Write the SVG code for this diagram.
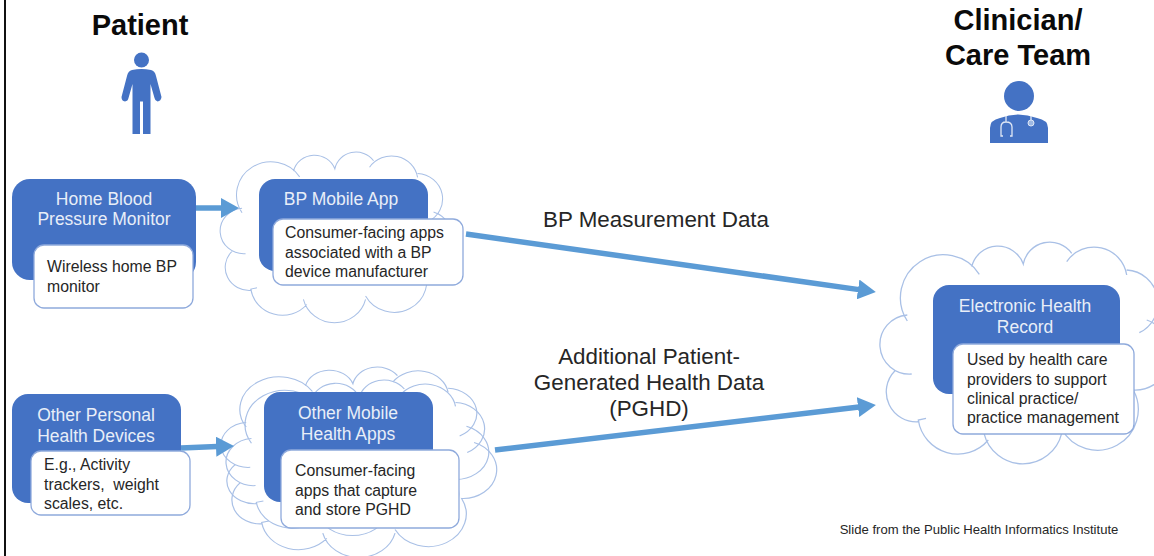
<svg xmlns="http://www.w3.org/2000/svg" xmlns:xlink="http://www.w3.org/1999/xlink" width="1154" height="556" viewBox="0 0 1154 556">
<style>
text{font-family:"Liberation Sans",Arial,sans-serif}
.h{font-size:29px;font-weight:700;fill:#0a0a0a;text-anchor:middle}
.t{font-size:17.500px;fill:#e8eef8;text-anchor:middle}
.b{font-size:15.800px;fill:#262626}
.l{font-size:22.400px;fill:#262626;text-anchor:middle}
.blue{fill:#4472C4}
.card{fill:#fff;stroke:#8FAADC;stroke-width:1.3}
.cl{fill:none;stroke:#A9C0E6;stroke-width:1.3;vector-effect:non-scaling-stroke}
.a{fill:none;stroke:#5B9BD5;stroke-width:5.500}
</style>
<defs>
<marker id="ah" markerUnits="userSpaceOnUse" viewBox="0 0 18 20" refX="1" refY="10" markerWidth="18" markerHeight="20" orient="auto"><path d="M0 0L18 10L0 20Z" fill="#5B9BD5"/></marker>
<path id="cloud" d="M907.300 315A20 20 0 0 0 911.700 374M907.300 321A42 42 0 0 1 979.300 274.300M971.700 266.700A27 27 0 0 1 1023.300 264A27 27 0 0 1 1071.700 253.300M1066.700 261.700A33 33 0 0 1 1126.700 275M1126.700 270A33 33 0 0 1 1139.300 332.700M1146.700 320A36 36 0 0 1 1133.300 390A38 38 0 0 1 1061.700 429M1061.700 433.300A40 40 0 0 1 984 433.300M988.300 440A40 40 0 0 1 918.300 420L926 418.300M919.300 421.700A30 30 0 0 1 895 370.700"/>
</defs>
<rect width="1154" height="556" fill="#fff"/>
<rect x="4" y="0" width="2" height="556" fill="#111"/>

<g id="clouds">
<use xlink:href="#cloud" href="#cloud" class="cl"/>
<use xlink:href="#cloud" href="#cloud" class="cl" transform="translate(221 152) scale(.8 .77) translate(-881 -242)"/>
<use xlink:href="#cloud" href="#cloud" class="cl" transform="translate(222 367) scale(.92 .76) translate(-881 -242)"/>
<use xlink:href="#cloud" href="#cloud" class="cl" transform="translate(227 380) scale(.93 .8) translate(-881 -242)"/>
</g>

<g id="connectors">
<path class="a" marker-end="url(#ah)" d="M194 208H222"/>
<path class="a" marker-end="url(#ah)" d="M181 448L217 446.600"/>
<path class="a" marker-end="url(#ah)" d="M466 234L859 289.600"/>
<path class="a" marker-end="url(#ah)" d="M495 450L859 407"/>
</g>

<g id="patient">
<text class="h" x="140" y="35">Patient</text>
<circle class="blue" cx="141.500" cy="60" r="7.500"/>
<path class="blue" d="M132 70Q141.500 68 151 70Q155 71 156 76L161.500 97Q161 101 157.500 101.500Q155 101 154.500 98L150.500 84V134H143V101.500H140V134H132.500V84L128.500 98Q128 101 125 101.500Q121.500 101 121.500 97L127 76Q128 71 132 70Z"/>
</g>

<g id="clinician">
<text class="h" x="1018" y="30">Clinician/</text>
<text class="h" x="1018" y="65">Care Team</text>
<circle class="blue" cx="1019" cy="96" r="15"/>
<path class="blue" d="M990 143V128Q990 120 1000 118Q1018 111 1037 118Q1048 120 1048 128V143Z"/>
<path d="M1006 116V122M1003 136H1001V127Q1001 122 1006 122Q1012 122 1012 127V136H1010M1031 116V120" fill="none" stroke="#dfe7f5" stroke-width="1.300"/>
<circle cx="1031" cy="123" r="3" fill="#9db8e3" stroke="#dfe7f5"/>
</g>

<g id="home-bp">
<rect class="blue" x="12" y="179" width="184" height="101" rx="18"/>
<text class="t" x="104" y="205">Home Blood</text>
<text class="t" x="104" y="225">Pressure Monitor</text>
<rect class="card" x="34" y="245" width="159" height="63" rx="10"/>
<text class="b" x="47" y="272">Wireless home BP</text>
<text class="b" x="47" y="292">monitor</text>
</g>

<g id="bp-app">
<rect class="blue" x="259" y="179" width="169" height="92" rx="16"/>
<text class="t" x="341" y="205">BP Mobile App</text>
<rect class="card" x="273" y="219" width="190" height="66" rx="10"/>
<text class="b" x="285" y="238">Consumer-facing apps</text>
<text class="b" x="285" y="258">associated with a BP</text>
<text class="b" x="285" y="277">device manufacturer</text>
</g>

<g id="other-devices">
<rect class="blue" x="12" y="394" width="169" height="109" rx="16"/>
<text class="t" x="96" y="421">Other Personal</text>
<text class="t" x="96" y="442">Health Devices</text>
<rect class="card" x="31" y="451" width="159" height="64" rx="10"/>
<text class="b" x="44" y="470">E.g., Activity</text>
<text class="b" x="44" y="490" xml:space="preserve">trackers,  weight</text>
<text class="b" x="44" y="509">scales, etc.</text>
</g>

<g id="other-apps">
<rect class="blue" x="264" y="392" width="169" height="110" rx="16"/>
<text class="t" x="348" y="419">Other Mobile</text>
<text class="t" x="348" y="440">Health Apps</text>
<rect class="card" x="281" y="450" width="178" height="78" rx="10"/>
<text class="b" x="295" y="476">Consumer-facing</text>
<text class="b" x="295" y="496">apps that capture</text>
<text class="b" x="295" y="515">and store PGHD</text>
</g>

<g id="ehr">
<rect class="blue" x="933" y="285" width="187" height="109" rx="16"/>
<text class="t" x="1025" y="312">Electronic Health</text>
<text class="t" x="1025" y="333">Record</text>
<rect class="card" x="953" y="344" width="181" height="90" rx="10"/>
<text class="b" x="967" y="365">Used by health care</text>
<text class="b" x="967" y="385">providers to support</text>
<text class="b" x="967" y="404">clinical practice/</text>
<text class="b" x="967" y="423">practice management</text>
</g>

<g id="labels">
<text class="l" x="656" y="227">BP Measurement Data</text>
<text class="l" x="649" y="364">Additional Patient-</text>
<text class="l" x="649" y="390">Generated Health Data</text>
<text class="l" x="649" y="416">(PGHD)</text>
<text x="979" y="534" font-size="13.100" fill="#262626" text-anchor="middle">Slide from the Public Health Informatics Institute</text>
</g>
</svg>
